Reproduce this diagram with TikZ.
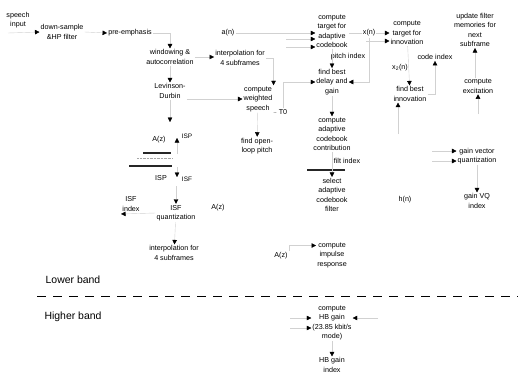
\documentclass[tikz,border=0pt]{standalone}
\usepackage{fontspec}
\setmainfont{Liberation Sans}
\usetikzlibrary{arrows.meta,positioning,calc}

\begin{document}
\begin{tikzpicture}[
        x=1bp, y=-1bp,
        lbl/.style={font=\fontsize{7.2}{9.5}\selectfont, align=center, inner sep=1pt},
        band/.style={font=\fontsize{10.5}{12}\selectfont, inner sep=0pt},
        conn/.style={draw=black!18, line width=0.4bp, -{Triangle[length=4.5bp,width=4.5bp,color=black]}},
        bar/.style={line width=1.1bp, black!85},
        sep/.style={line width=1bp, dash pattern=on 9bp off 7bp}
    ]
    \useasboundingbox (0,0) rectangle (518,383);

    % Lower band: LPC analysis
    \node[lbl] (spin) at (18,20) {speech\\input};
    \coordinate (src) at (8,33);
    \node[lbl] (dn) at (62,32) {down-sample\\\&HP filter};
    \node[lbl] (pre) at (130,33) {pre-emphasis};
    \node[lbl] (win) at (170,57) {windowing \&\\autocorrelation};
    \node[lbl] (lev) at (170,91) {Levinson-\\Durbin};
    \coordinate (azo) at (170,122);
    \draw[conn] (src) -- (dn.west);
    \draw[conn] (dn.east) -- (pre.west);
    \draw[conn] (pre.east) -| (win.north);
    \draw[conn] (win) -- (lev);
    \draw[conn] (lev.south) -- (azo);

    % A(z) -> ISP -> ISF
    \node[lbl] (az1) at (159,140) {A(z)};
    \node[lbl, font=\fontsize{6.5}{8}\selectfont] (isp1) at (187,136) {ISP};
    \coordinate (ispa) at (177,154);
    \coordinate (ispb) at (177,138);
    \draw[conn] (ispa) -- (ispb);
    \draw[bar] (143,153) -- (171,153);
    \draw[black!35, densely dotted] (137,158) -- (173,158);
    \draw[bar] (129,166) -- (172,166);
    \node[lbl] (isp2) at (161,178) {ISP};
    \node[lbl, font=\fontsize{6.5}{8}\selectfont] (isf1) at (187,179) {ISF};
    \coordinate (isfa) at (177,167);
    \coordinate (isfb) at (177,177);
    \coordinate (isfc) at (176,186);
    \draw[conn] (isfa) -- (isfb);

    % ISF quantization
    \node[lbl] (isfq) at (176,213) {ISF\\quantization};
    \node[lbl] (isfidx) at (131,204) {ISF\\index};
    \coordinate (isfout) at (121,214);
    \node[lbl] (interp2) at (174,253) {interpolation for\\4 subframes};
    \node[lbl] (az2) at (218,208) {A(z)};
    \draw[conn] (isfc) -- (isfq.north);
    \draw[conn] (isfq.west) -- (isfout);
    \draw[conn] (isfq) -- (interp2);

    % weighted speech and open-loop pitch
    \node[lbl] (an) at (228,33) {a(n)};
    \node[lbl] (interp1) at (240,58) {interpolation for\\4 subframes};
    \node[lbl] (wsp) at (258,99) {compute\\weighted\\speech};
    \node[lbl] (olp) at (257,146) {find open-\\loop pitch};
    \node[lbl] (t0) at (283,112) {T0};
    \draw[conn] (win.east) -- (interp1.west |- win.east);
    \draw[conn] (lev.east |- wsp.west) -- (wsp.west);
    \draw[conn] (interp1.east) -| (wsp.north east);
    \draw[conn] (wsp) -- (olp);
    \draw[black!45, dashed] (wsp.south east) -- (t0.west);

    % adaptive codebook search
    \node[lbl] (tgt) at (332,31) {compute\\target for\\adaptive\\codebook};
    \coordinate (tin2) at (286,39);
    \coordinate (tin3) at (286,47);
    \node[lbl] (pidx) at (348,57) {pitch index};
    \node[lbl] (fbd) at (332,82) {find best\\delay and\\gain};
    \node[lbl] (cacc) at (332,134) {compute\\adaptive\\codebook\\contribution};
    \node[lbl] (fidx) at (347,161) {filt index};
    \node[lbl] (sel) at (332,195) {select\\adaptive\\codebook\\filter};
    \node[lbl] (hn) at (405,200) {h(n)};
    \draw[conn] (an.east) -- (tgt.west |- an.east);
    \draw[conn] (tin2) -- (tgt.west |- tin2);
    \draw[conn] (tin3) -- (tgt.west |- tin3);
    \draw[conn] (tgt) -- (fbd);
    \draw[conn] (t0.north) |- (fbd.west);
    \draw[conn] (fbd) -- (cacc);
    \draw[bar] (307,170) -- (345,170);
    \draw[conn] (cacc) -- (sel);

    % impulse response
    \node[lbl] (az3) at (281,256) {A(z)};
    \node[lbl] (imp) at (332,255) {compute\\impulse\\response};
    \draw[conn] (az3.north east) |- ([yshift=9.5pt]imp.west);

    % algebraic codebook search
    \node[lbl] (ctin) at (407,33) {compute\\target for\\innovation};
    \draw[conn] (tgt.east |- ctin.west) -- node[lbl, fill=white] (xn) {x(n)} (ctin.west);
    \coordinate (cin2) at (366,41);
    \draw[conn] (cin2) -- (ctin.west |- cin2);
    \draw[conn] (xn.south) |- (fbd.east);
    \node[lbl] (x2) at (400,68) {x\textsubscript{2}(n)};
    \node[lbl] (fbi) at (410,94) {find best\\innovation};
    \node[lbl] (cidx) at (435,57) {code index};
    \coordinate (fbiin) at (398,134);
    \draw[conn] (ctin) -- (fbi);
    \draw[conn] (fbi.east) -| (cidx.south);
    \draw[conn] (fbiin) -- (fbi.south -| fbiin);

    % excitation, memories and gains
    \node[lbl] (upd) at (475,30) {update filter\\memories for\\next\\subframe};
    \node[lbl] (cex) at (478,86) {compute\\excitation};
    \coordinate (cexin) at (478,114);
    \node[lbl] (gvq) at (477,156) {gain vector\\quantization};
    \coordinate (gin1) at (432,151);
    \coordinate (gin2) at (432,161);
    \node[lbl] (gvidx) at (477,201) {gain VQ\\index};
    \draw[conn] (cex.north -| upd.south) -- (upd.south);
    \draw[conn] (cexin) -- (cex.south -| cexin);
    \draw[conn] (gin1) -- (gvq.west |- gin1);
    \draw[conn] (gin2) -- (gvq.west |- gin2);
    \draw[conn] (gvq) -- (gvidx);

    % band split
    \node[band] (lower) at (73,280) {Lower band};
    \node[band] (higher) at (73,317) {Higher band};
    \coordinate (sepl) at (37,296);
    \coordinate (sepr) at (518,296);
    \draw[sep] (sepl) -- (sepr);

    % higher band gain
    \node[lbl] (hbg) at (332,323) {compute\\HB gain\\(23.85 kbit/s\\mode)};
    \node[lbl] (hbidx) at (332,365) {HB gain\\index};
    \coordinate (hbin1) at (290,318);
    \coordinate (hbin2) at (290,328);
    \coordinate (hbin3) at (378,318);
    \draw[conn] (hbin1) -- (hbg.west |- hbin1);
    \draw[conn] (hbin2) -- (hbg.west |- hbin2);
    \draw[conn] (hbin3) -- (hbg.east |- hbin3);
    \draw[conn] (hbg) -- (hbidx);
\end{tikzpicture}
\end{document}
